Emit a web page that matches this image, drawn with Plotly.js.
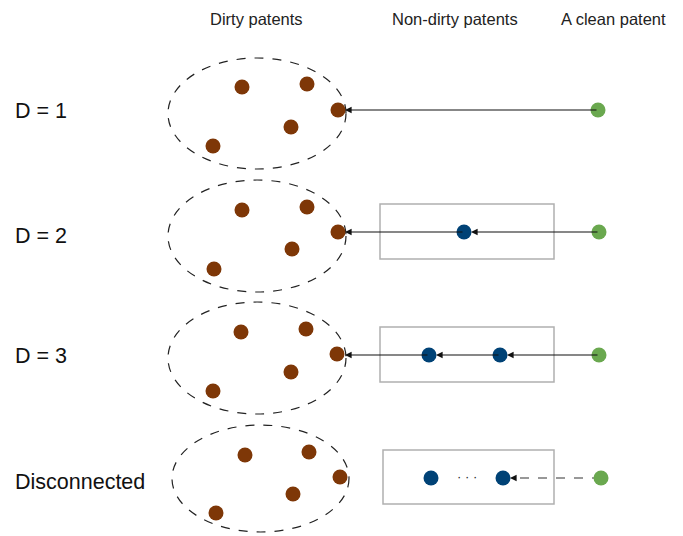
<!DOCTYPE html>
<html><head><meta charset="utf-8">
<script src="https://cdn.plot.ly/plotly-3.0.1.min.js"></script>
<style>html,body{margin:0;padding:0;background:#fff}</style>
</head><body><div id="chart" style="width:683px;height:536px"></div>
<script>
// Column headers and row labels
const headers = ["Dirty patents", "Non-dirty patents", "A clean patent"];
const headerX = [256.5, 454.5, 613.5];
const rowLabels = ["D = 1", "D = 2", "D = 3", "Disconnected"];
const rowLabelY = [111, 236, 356, 482];

// Dirty patents (brown) per row
const dirtyX = [[242, 307, 338, 291, 213], [242, 307, 338, 292, 214], [241, 306, 337, 291, 213], [245, 309, 340, 293, 216]];
const dirtyY = [[87, 84, 110, 127, 146], [210, 207, 232, 249, 269], [332, 329, 354, 372, 391], [455, 452, 477, 494, 513]];
// Dirty-patent clusters (ellipses): x0, x1, y0, y1
const clusterX0 = [168, 168, 168, 172];
const clusterX1 = [346, 346, 346, 349];
const clusterY0 = [58, 180, 302, 425];
const clusterY1 = [169, 292, 414, 532];

// Non-dirty patents (blue)
const nondirtyX = [[], [464], [429, 500], [431, 503]];
const nondirtyY = [[], [232], [355], [478]];
// Non-dirty boxes
const boxX0 = [null, 380, 380, 383];
const boxX1 = [null, 554, 554, 554];
const boxY0 = [null, 204, 327, 450];
const boxY1 = [null, 259, 382, 504];

// Clean patents (green)
const cleanX = [598, 599, 599, 601];
const cleanY = [110, 232, 355, 478];

// Citation chains: [fromX, toX, y]
const chainsSolid = [[598, 345, 110], [599, 471, 232], [464, 345, 232], [599, 507, 355], [500, 436, 355], [429, 345, 355]];
const chainsDashed = [[601, 510, 478]];

const BROWN = '#7E3707', BLUE = '#004276', GREEN = '#6AA84F';
const FONT = 'Liberation Sans, Arial, sans-serif';

const traces = [];
const shapes = [];
const annotations = [];

for (let i = 0; i < 4; i++) {
  shapes.push({type: 'circle', xref: 'x', yref: 'y', x0: clusterX0[i], x1: clusterX1[i], y0: clusterY0[i], y1: clusterY1[i],
    line: {color: '#222', width: 1.2, dash: 'dash'}, layer: 'below'});
  if (boxX0[i] !== null) {
    shapes.push({type: 'rect', xref: 'x', yref: 'y', x0: boxX0[i], x1: boxX1[i], y0: boxY0[i], y1: boxY1[i],
      line: {color: '#b0b0b0', width: 1.5}, layer: 'below'});
  }
}
chainsSolid.forEach(c => {
  annotations.push({x: c[1], y: c[2], ax: c[0], ay: c[2], xref: 'x', yref: 'y', axref: 'x', ayref: 'y',
    text: '', showarrow: true, arrowhead: 2, arrowsize: 1.1, arrowwidth: 1.2, arrowcolor: '#111', standoff: 0});
});
chainsDashed.forEach(c => {
  shapes.push({type: 'line', xref: 'x', yref: 'y', x0: c[0], x1: c[1] + 6, y0: c[2], y1: c[2],
    line: {color: '#777', width: 1.3, dash: 'dash'}, layer: 'below'});
  annotations.push({x: c[1], y: c[2], ax: c[1] + 7, ay: c[2], xref: 'x', yref: 'y', axref: 'x', ayref: 'y',
    text: '', showarrow: true, arrowhead: 2, arrowsize: 1.1, arrowwidth: 1.2, arrowcolor: '#111', standoff: 0});
});

traces.push({type: 'scatter', mode: 'markers', x: dirtyX.flat(), y: dirtyY.flat(),
  marker: {color: BROWN, size: 15}, hoverinfo: 'skip'});
traces.push({type: 'scatter', mode: 'markers', x: nondirtyX.flat(), y: nondirtyX.flatMap((xs, i) => xs.map(() => nondirtyY[i][0])),
  marker: {color: BLUE, size: 15}, hoverinfo: 'skip'});
traces.push({type: 'scatter', mode: 'markers', x: cleanX, y: cleanY,
  marker: {color: GREEN, size: 15}, hoverinfo: 'skip'});

annotations.push({x: 467, y: 476, xref: 'x', yref: 'y', text: '· · ·', showarrow: false,
  font: {family: FONT, size: 13, color: '#222'}});

headers.forEach((h, i) => annotations.push({x: headerX[i], y: 19, xref: 'x', yref: 'y', text: h, showarrow: false,
  font: {family: FONT, size: 16.5, color: '#222'}}));
rowLabels.forEach((r, i) => annotations.push({x: 13, y: rowLabelY[i], xref: 'x', yref: 'y', xanchor: 'left', text: r, showarrow: false,
  font: {family: FONT, size: 21.5, color: '#111'}}));

const layout = {
  width: 683, height: 536, margin: {l: 0, r: 0, t: 0, b: 0},
  paper_bgcolor: '#fff', plot_bgcolor: '#fff', showlegend: false,
  xaxis: {range: [0, 683], visible: false, fixedrange: true},
  yaxis: {range: [536, 0], visible: false, fixedrange: true},
  shapes, annotations
};
Plotly.newPlot('chart', traces, layout, {staticPlot: true});
</script></body></html>
